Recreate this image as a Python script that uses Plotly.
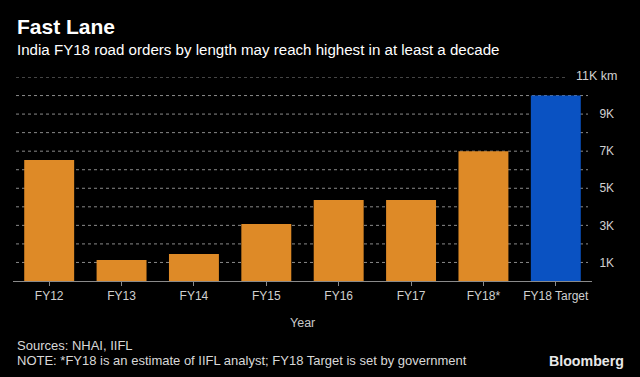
import plotly.graph_objects as go

categories = ["FY12", "FY13", "FY14", "FY15", "FY16", "FY17", "FY18*", "FY18 Target"]
orders_km = [6520, 1130, 1460, 3070, 4370, 4370, 7000, 10000]
bar_colors = ["#DE8A27"] * 7 + ["#0A52C2"]
tick_vals = [1000, 3000, 5000, 7000, 9000]
tick_text = ["1K", "3K", "5K", "7K", "9K"]
grid_vals = [1000, 2000, 3000, 4000, 5000, 6000, 7000, 8000, 9000, 10000, 11000]
y_max = 11000

FONT = "Liberation Sans, Arial, sans-serif"

fig = go.Figure()
fig.add_trace(go.Bar(
    x=categories, y=orders_km, marker=dict(color=bar_colors, line=dict(width=0)),
    hoverinfo="x+y",
))

# plot area: x 13..592, y 77..281
L, R, T, B = 13, 48, 77, 96
W, H = 640 - L - R, 377 - T - B


def py(Y):
    return (281 - Y) / H


def px(X):
    return (X - L) / W


shapes = []
for g in grid_vals:
    shapes.append(dict(
        type="line", xref="paper", yref="y", x0=px(16),
        x1=px(567) if g == y_max else px(588), y0=g, y1=g,
        line=dict(color="#8a8a8a", width=1, dash="dot"), layer="below",
    ))

ann = [
    dict(text="<b>Fast Lane</b>", x=px(15), y=py(26.5), xanchor="left", yanchor="middle",
         font=dict(size=21, color="white", family=FONT)),
    dict(text="India FY18 road orders by length may reach highest in at least a decade",
         x=px(15), y=py(49), xanchor="left", yanchor="middle",
         font=dict(size=15.1, color="white", family=FONT)),
    dict(text="11K km", x=px(574), y=py(76), xanchor="left", yanchor="middle",
         font=dict(size=12.5, color="#d0d0d0", family=FONT)),
    dict(text="Year", x=0.5, y=py(323), xanchor="center", yanchor="middle",
         font=dict(size=12.5, color="#c8c8c8", family=FONT)),
    dict(text="Sources: NHAI, IIFL", x=px(15), y=py(345), xanchor="left", yanchor="middle",
         font=dict(size=13, color="#d8d8d8", family=FONT)),
    dict(text="NOTE: *FY18 is an estimate of IIFL analyst; FY18 Target is set by government",
         x=px(15), y=py(360), xanchor="left", yanchor="middle",
         font=dict(size=13, color="#d8d8d8", family=FONT)),
    dict(text="<b>Bloomberg</b>", x=px(626), y=py(361), xanchor="right", yanchor="middle",
         font=dict(size=14.2, color="#e8e8e8", family=FONT)),
]
for a in ann:
    a.update(xref="paper", yref="paper", showarrow=False)

fig.update_layout(
    width=640, height=377,
    margin=dict(l=L, r=R, t=T, b=B),
    paper_bgcolor="black", plot_bgcolor="black",
    bargap=0.31, showlegend=False,
    font=dict(family=FONT, color="#d0d0d0", size=12),
    shapes=shapes, annotations=ann,
    xaxis=dict(
        showline=True, linecolor="#8a8a8a", linewidth=1,
        ticks="outside", ticklen=4, tickcolor="#8a8a8a",
        tickfont=dict(size=12, color="#d0d0d0"), showgrid=False,
    ),
    yaxis=dict(
        side="right", range=[0, y_max], tickvals=tick_vals, ticktext=tick_text,
        showgrid=False, zeroline=False, showline=False,
        ticks="outside", ticklen=4, tickcolor="rgba(0,0,0,0)",
        tickfont=dict(size=12, color="#d0d0d0"),
    ),
)

fig.write_html(
    "out.html",
    config={"displayModeBar": False},
    post_script="document.body.style.margin='0';document.body.style.overflow='hidden';",
)
